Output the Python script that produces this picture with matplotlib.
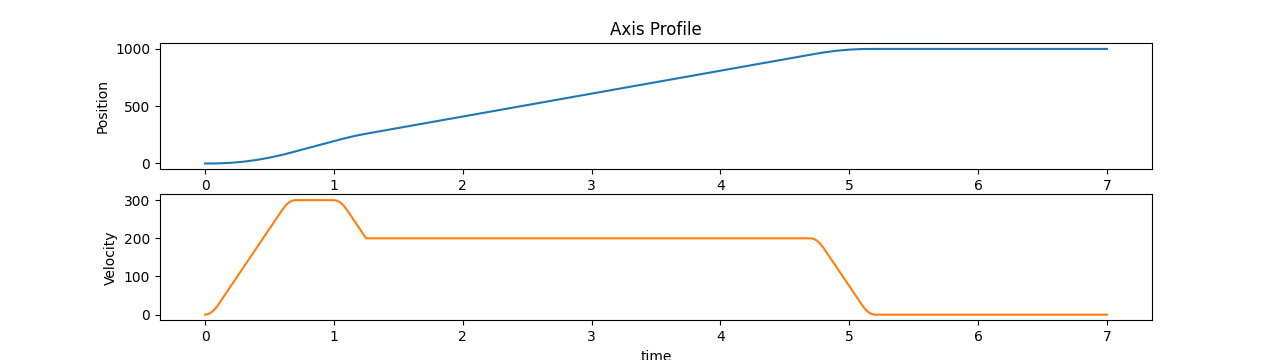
import numpy as np
import matplotlib
matplotlib.use('Agg')
import matplotlib.pyplot as plt

# sample times (s), denser where the curves bend
time = [0, 0.025, 0.05, 0.075, 0.1, 0.2, 0.3, 0.4, 0.5, 0.6,
        0.625, 0.65, 0.675, 0.7, 0.8, 0.9, 1.0, 1.025, 1.05, 1.075,
        1.1, 1.15, 1.2, 1.25, 2, 3, 4, 4.7, 4.725, 4.75,
        4.775, 4.8, 4.9, 5.0, 5.1, 5.125, 5.15, 5.175, 5.2, 6, 7]

position = [0, 0.01, 0.1, 0.35, 0.8, 5.8, 15.8, 30.8, 50.8, 75.8,
            82.8, 90.1, 97.5, 105, 135, 165, 195, 202.5, 209.9, 217.1,
            224.2, 237.3, 249.2, 259.8, 409.8, 609.8, 809.8, 949.8, 954.8, 959.7,
            964.4, 969.0, 984.0, 994.0, 999.0, 999.5, 999.7, 999.8, 999.9, 1000, 1000]

velocity = [0, 1.6, 6.3, 14.1, 25, 75, 125, 175, 225, 275,
            285.9, 293.8, 298.4, 300, 300, 300, 300, 298.4, 293.8, 285.9,
            275, 250, 225, 200, 200, 200, 200, 200, 198.4, 193.8,
            185.9, 175, 125, 75, 25, 14.1, 6.3, 1.6, 0, 0, 0]

fig, (ax1, ax2) = plt.subplots(2, 1, figsize=(12.8, 3.6), dpi=100)

ax1.plot(time, position, color='C0')
ax1.set_ylabel('Position')
ax1.set_title('Axis Profile')

ax2.plot(time, velocity, color='C1')
ax2.set_ylabel('Velocity')
ax2.set_xlabel('time')

fig.savefig('out.png')
